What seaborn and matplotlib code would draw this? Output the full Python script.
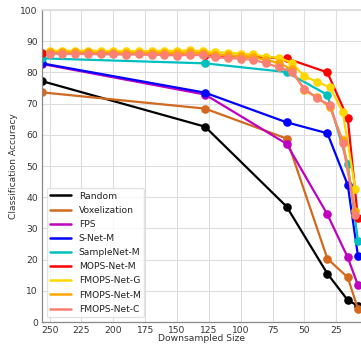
import matplotlib
matplotlib.use("Agg")
import matplotlib.pyplot as plt
import seaborn as sns
from matplotlib.lines import Line2D

# ---- data ----
sizes = [256, 128, 64, 32, 16, 8]
random_acc = [77.2, 62.6, 37.0, 15.5, 7.0, 5.2]
voxel_acc = [73.6, 68.4, 58.8, 20.3, 14.3, 4.2]
fps_acc = [82.7, 72.9, 57.1, 34.5, 20.7, 11.8]
snet_acc = [82.9, 73.5, 64.0, 60.5, 43.9, 21.2]
samplenet_acc = [84.5, 82.9, 80.1, 72.8, 50.6, 26.1]
mops_acc = [86.3, 85.6, 84.5, 80.0, 65.3, 33.2]

fm_sizes = [250, 240, 230, 220, 210, 200, 190, 180, 170, 160, 150, 140, 130,
            120, 110, 100, 90, 80, 70, 60, 50, 40, 30, 20, 10]
fmops_g = [86.9, 87.0, 86.9, 87.0, 86.9, 86.9, 86.8, 86.9, 86.8, 87.0, 86.9,
           87.1, 86.8, 86.5, 86.3, 86.0, 85.8, 85.0, 84.7, 83.1, 78.7, 77.0,
           75.2, 67.4, 42.5]
fmops_m = [86.4, 86.5, 86.4, 86.4, 86.3, 86.3, 86.2, 86.3, 86.2, 86.3, 86.2,
           86.4, 86.2, 85.7, 85.5, 85.2, 84.9, 84.0, 83.0, 81.0, 74.2, 72.0,
           68.8, 58.3, 35.5]
fmops_c = [86.0, 86.0, 85.9, 85.9, 85.8, 85.8, 85.7, 85.8, 85.6, 85.6, 85.4,
           85.6, 85.5, 84.8, 84.6, 84.4, 84.0, 82.9, 81.6, 80.2, 74.8, 71.7,
           69.5, 57.3, 34.4]

series_names = ["Random", "Voxelization", "FPS", "S-Net-M", "SampleNet-M",
                "MOPS-Net-M", "FMOPS-Net-G", "FMOPS-Net-M", "FMOPS-Net-C"]
series_x = [sizes, sizes, sizes, sizes, sizes, sizes, fm_sizes, fm_sizes, fm_sizes]
series_y = [random_acc, voxel_acc, fps_acc, snet_acc, samplenet_acc, mops_acc,
            fmops_g, fmops_m, fmops_c]
colors = ["black", "#D2691E", "#BF00BF", "blue", "#00BFBF", "red",
          "gold", "orange", "salmon"]

xticks = [250, 225, 200, 175, 150, 125, 100, 75, 50, 25]
yticks = [0, 10, 20, 30, 40, 50, 60, 70, 80, 90, 100]

# ---- style ----
sns.set_theme(style="whitegrid")
plt.rcParams['font.family'] = ['DejaVu Sans']
fs = 6.6

fig = plt.figure(figsize=(3.61, 3.44), dpi=100)
ax = fig.add_axes([42/361, 22/344, (361-42)/361, (322-10)/344])

for name, xs, ys, c in zip(series_names, series_x, series_y, colors):
    sns.lineplot(x=xs, y=ys, color=c, marker='o', markersize=6.2,
                 markeredgecolor=c, markeredgewidth=0, linewidth=1.6,
                 ax=ax, legend=False, sort=False)

ax.set_xlim(256, 5.6)
ax.set_ylim(0, 100)
ax.set_xticks(xticks)
ax.set_yticks(yticks)
ax.tick_params(labelsize=fs, colors="#333333", length=0, pad=3)
ax.grid(True, color="#dddddd", linewidth=0.8)
for s in ["left", "bottom"]:
    ax.spines[s].set_color("#888888")
    ax.spines[s].set_linewidth(0.9)
ax.spines["top"].set_color("#dddddd")
ax.spines["right"].set_visible(False)

ax.set_xlabel("Downsampled Size", fontsize=fs, color="#333333", labelpad=-0.5)
ax.set_ylabel("Classification Accuracy", fontsize=fs, color="#333333", labelpad=1.5)

handles = [Line2D([0], [0], color=c, linewidth=1.8) for c in colors]
leg = ax.legend(handles, series_names, loc="lower left", fontsize=fs,
                handlelength=2.3, handletextpad=0.8, labelspacing=0.56,
                borderaxespad=0.5, frameon=True, fancybox=True)
leg.get_frame().set_edgecolor("#dddddd")
leg.get_frame().set_facecolor("white")
for t in leg.get_texts():
    t.set_color("#222222")

fig.savefig("out.png", dpi=100)
